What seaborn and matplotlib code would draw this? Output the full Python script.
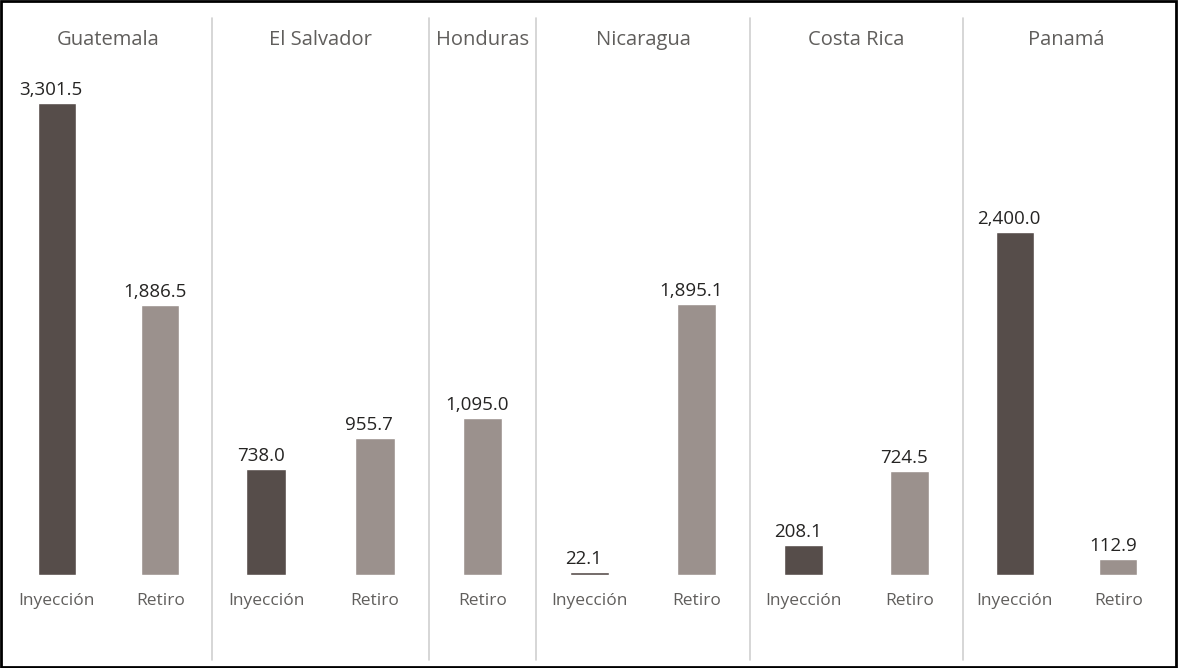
import pandas as pd
import numpy as np
import matplotlib.pyplot as plt
import seaborn as sns
from matplotlib.lines import Line2D
from matplotlib.patches import Rectangle

paises = ["Guatemala", "El Salvador", "Honduras", "Nicaragua", "Costa Rica", "Panamá"]
inyeccion = [3301.5, 738.0, None, 22.1, 208.1, 2400.0]
retiro = [1886.5, 955.7, 1095.0, 1895.1, 724.5, 112.9]

rows = []
for p, i, r in zip(paises, inyeccion, retiro):
    if i is not None:
        rows.append({"pais": p, "tipo": "Inyección", "valor": i})
    rows.append({"pais": p, "tipo": "Retiro", "valor": r})
df = pd.DataFrame(rows)

sns.set_style("white")
plt.rcParams['font.family'] = ['Open Sans', 'DejaVu Sans']

colores = {"Inyección": "#564d4a", "Retiro": "#9b918d"}
W, H = 1178, 668
fig = plt.figure(figsize=(W / 100, H / 100), dpi=100)

# panel widths in pixels (Honduras only has one bar)
anchos = [207, 217, 107, 214, 213, 207]
left, right = 5 / W, 1170 / W
bottom, top = (H - 575) / H, (H - 18) / H
gs = fig.add_gridspec(1, len(paises), width_ratios=anchos, left=left, right=right,
                      bottom=bottom, top=top, wspace=0)

ymax = 3301.5 * 557 / 472
bounds = []
for k, p in enumerate(paises):
    ax = fig.add_subplot(gs[0, k])
    sub = df[df.pais == p]
    sns.barplot(data=sub, x="tipo", y="valor", hue="tipo", palette=colores,
                width=0.37, legend=False, ax=ax, saturation=1)
    for bar in ax.patches:
        h = bar.get_height()
        ax.annotate(f"{h:,.1f}", (bar.get_x() + bar.get_width() / 2, h),
                    xytext=(-4, 3), textcoords="offset points", ha="center", va="bottom",
                    fontsize=13.5, color="#252423", annotation_clip=False)
    ax.set_xlim(-0.5, len(sub) - 0.5)
    ax.set_ylim(0, ymax)
    ax.set_xlabel("")
    ax.set_ylabel("")
    ax.set_yticks([])
    ax.tick_params(axis="x", length=0, pad=13, labelsize=12.5, labelcolor="#605e5c")
    for s in ax.spines.values():
        s.set_visible(False)
    ax.patch.set_alpha(0)
    pos = ax.get_position()
    fig.text((pos.x0 + pos.x1) / 2, 1 - 40 / H, p, ha="center", va="center",
             fontsize=14.5, color="#605e5c")
    bounds.append(pos.x1)

for x in bounds[:-1]:
    fig.add_artist(Line2D([x, x], [1 - 660 / H, 1 - 18 / H], color="#d0d0d0", lw=1.2))

fig.add_artist(Rectangle((0.001, 0.002), 0.997, 0.996, transform=fig.transFigure,
                         fill=False, edgecolor="black", lw=2))

fig.savefig("out.png", dpi=100)
